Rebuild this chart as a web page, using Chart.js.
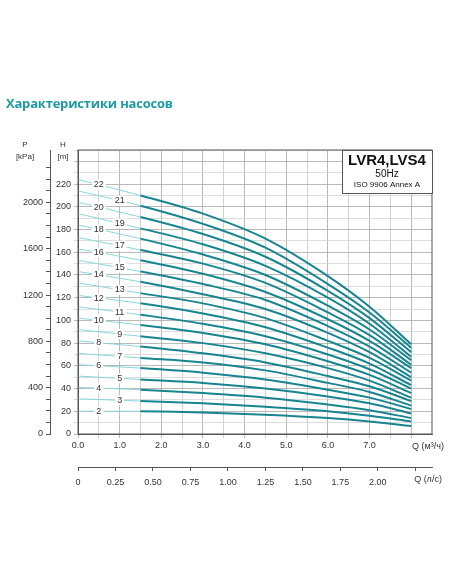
<!DOCTYPE html>
<html><head><meta charset="utf-8">
<script src="https://cdn.jsdelivr.net/npm/chart.js@4"></script>
<style>
body{margin:0;background:#fff;width:452px;height:584px;overflow:hidden;font-family:"Liberation Sans",Arial,sans-serif}
#t{position:absolute;left:6px;top:94px;font:bold 13px "Open Sans",sans-serif;color:#1e9aa3;letter-spacing:-0.2px}
#w{position:absolute;left:0;top:0;width:452px;height:584px}
</style></head><body>
<div id="w"><canvas id="c"></canvas></div>
<div id="t">Характеристики насосов</div>
<script>
const flowQ = [0, 1.5, 3, 4.5, 6, 7, 8];
const stages = [2,3,4,5,6,7,8,9,10,11,12,13,14,15,16,17,18,19,20,21,22];
const heads = [
 [20,20,19,17,14,11,7],
 [31,29,27,24,20,16,11],
 [41,39,36,32,26,21,14],
 [51,48,45,40,33,27,18],
 [61,58,54,48,39,32,22],
 [71,67,63,56,45,37,25],
 [82,77,71,63,51,42,29],
 [92,86,80,71,58,47,32],
 [102,96,89,79,64,52,36],
 [112,105,97,86,70,57,40],
 [122,115,106,94,76,62,43],
 [133,124,115,102,82,67,47],
 [143,134,123,110,89,72,50],
 [153,143,132,118,95,77,54],
 [163,153,141,125,101,82,58],
 [173,162,150,133,107,87,61],
 [184,172,158,140,113,92,65],
 [194,181,167,148,120,97,68],
 [204,191,176,156,126,102,72],
 [214,201,185,164,132,107,76],
 [224,210,194,172,139,112,79]
];
const qTicks = [0,0.5,1,1.5,2,2.5,3,3.5,4,4.5,5,5.5,6,6.5,7,7.5,8];
const qLabels = [0,1,2,3,4,5,6,7];
const lsTicks = [0,0.25,0.5,0.75,1,1.25,1.5,1.75,2,2.25];
const lsLabels = [0,0.25,0.5,0.75,1,1.25,1.5,1.75,2];
const hMajor = [0,20,40,60,80,100,120,140,160,180,200,220];
const pMajor = [0,400,800,1200,1600,2000];
const QMAX=8.5, HMAX=250;

const teal='#17858f', light='#8ad6dc';
const datasets = stages.map((s,i)=>({
  label:String(s),
  data: flowQ.map((q,j)=>({x:q,y:heads[i][j]})),
  borderColor:teal, borderWidth:2, pointRadius:0, tension:0.4, cubicInterpolationMode:'monotone',
  segment:{borderWidth:c=>c.p0.parsed.x<1.5?1:2, borderColor:c=>c.p0.parsed.x<1.5?light:teal}
}));

const deco={id:'deco',
 afterDatasetsDraw(ch){
  const {ctx,chartArea:a,scales}=ch; const X=scales.x,Y=scales.y;
  ctx.save();
  ctx.font='9px "Liberation Sans",Arial'; ctx.textAlign='center'; ctx.textBaseline='middle';
  stages.forEach((s,i)=>{
    const q = s%2===0?0.5:1.0;
    const h = heads[i][0]+(heads[i][1]-heads[i][0])*q/1.5;
    const px=X.getPixelForValue(q), py=Y.getPixelForValue(h);
    const w=ctx.measureText(String(s)).width+4;
    ctx.fillStyle='#fff'; ctx.fillRect(px-w/2,py-5,w,10);
    ctx.fillStyle='#333'; ctx.fillText(String(s),px,py);
  });
  ctx.strokeStyle='#555'; ctx.lineWidth=1;
  ctx.strokeRect(a.left,a.top,a.right-a.left,a.bottom-a.top);
  const bx=342,by=a.top,bw=a.right-bx,bh=43;
  ctx.fillStyle='#fff'; ctx.fillRect(bx,by,bw,bh); ctx.strokeRect(bx+0.5,by+0.5,bw,bh);
  ctx.fillStyle='#111';
  ctx.font='bold 15px "Liberation Sans",Arial'; ctx.fillText('LVR4,LVS4',bx+bw/2,by+11);
  ctx.font='10px "Liberation Sans",Arial'; ctx.fillText('50Hz',bx+bw/2,by+24);
  ctx.font='8px "Liberation Sans",Arial'; ctx.fillText('ISO 9906 Annex A',bx+bw/2,by+35);
  ctx.fillStyle='#333'; ctx.font='8px "Liberation Sans",Arial';
  ctx.fillText('P',25,145); ctx.fillText('[kPa]',25,157);
  ctx.fillText('H',63,145); ctx.fillText('[m]',63,157);
  ctx.font='9px "Liberation Sans",Arial';
  ctx.fillText('Q (м³/ч)',428,447); ctx.fillText('Q (л/с)',428,480);
  ctx.restore();
 }};

new Chart(document.getElementById('c'),{
 type:'line', data:{datasets},
 plugins:[deco],
 options:{responsive:true,maintainAspectRatio:false,animation:false,
  layout:{padding:{left:0,right:20,top:150,bottom:97}},
  plugins:{legend:{display:false},tooltip:{enabled:false}},
  scales:{
   x:{type:'linear',min:0,max:QMAX,position:'bottom',
     afterBuildTicks:s=>{s.ticks=qTicks.map(v=>({value:v}));},
     ticks:{autoSkip:false,maxRotation:0,padding:2,color:'#333',font:{size:9},callback:v=>qLabels.includes(v)?v.toFixed(1):''},
     grid:{color:c=>Number.isInteger(c.tick&&c.tick.value)?'#a8a8a8':'#c8c8c8',tickLength:4,lineWidth:0.8},
     border:{color:'#555'}, afterFit:s=>{s.height=33;}},
   x2:{type:'linear',min:0,max:QMAX/3.6,position:'bottom',
     afterBuildTicks:s=>{s.ticks=lsTicks.map(v=>({value:v}));},
     ticks:{autoSkip:false,maxRotation:0,padding:6,color:'#333',font:{size:9},callback:v=>lsLabels.includes(v)?(v===0?'0':v.toFixed(2)):''},
     grid:{drawOnChartArea:false,tickLength:4,color:'#555'},
     border:{color:'#555'}, afterFit:s=>{s.height=20;}},
   y:{type:'linear',min:0,max:HMAX,position:'left',
     afterBuildTicks:s=>{const t=[];for(let v=0;v<=HMAX;v+=10)t.push({value:v});s.ticks=t;},
     ticks:{autoSkip:false,padding:3,color:'#333',font:{size:9},callback:v=>hMajor.includes(v)?String(v):''},
     grid:{color:c=>(c.tick&&c.tick.value%20===0)?'#a8a8a8':'#d4d4d4',lineWidth:0.8,tickLength:4},
     border:{color:'#555'}, afterFit:s=>{s.width=28;}},
   p:{type:'linear',min:0,max:HMAX*9.81,position:'left',
     afterBuildTicks:s=>{const t=[];for(let v=0;v<=2300;v+=100)t.push({value:v});s.ticks=t;},
     ticks:{autoSkip:false,padding:3,color:'#333',font:{size:9},callback:v=>pMajor.includes(v)?String(v):''},
     grid:{drawOnChartArea:false,tickLength:4,color:'#555'},
     border:{color:'#555'}, afterFit:s=>{s.width=50;}}
  }}
});
</script></body></html>
